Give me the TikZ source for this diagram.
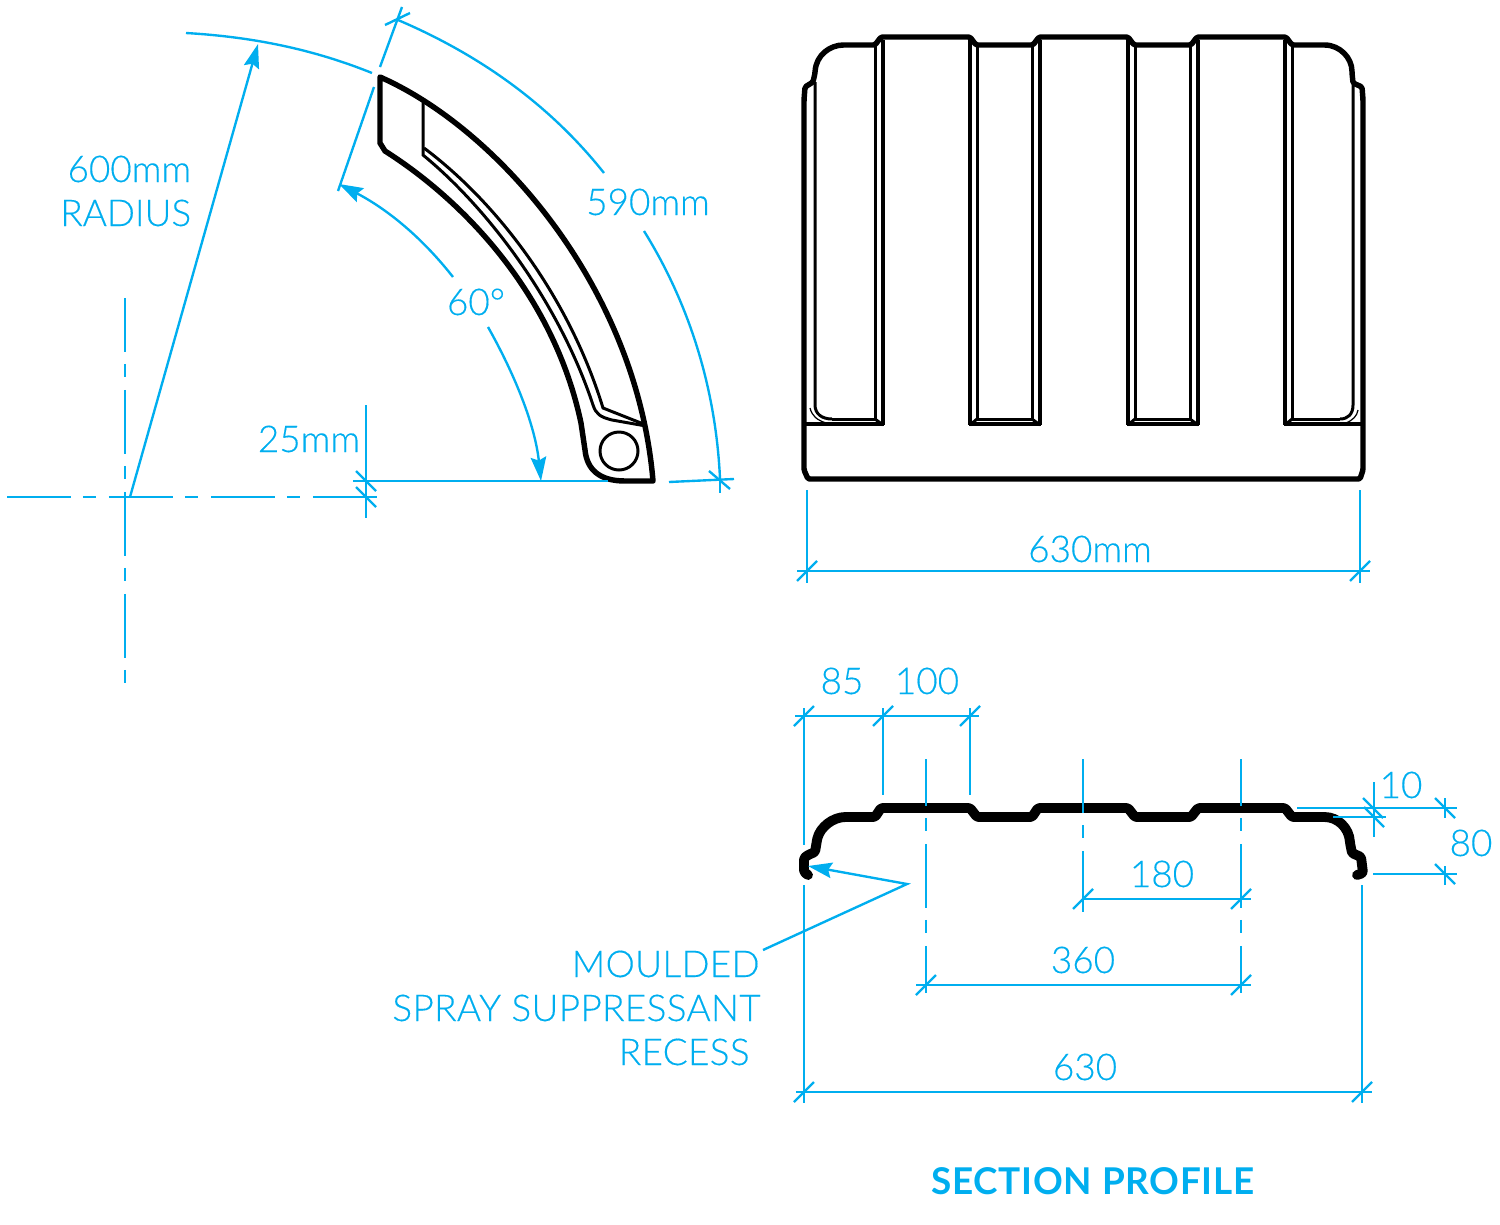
\documentclass[tikz,border=0pt]{standalone}
\usepackage{fontspec}
\setmainfont{Lato}[UprightFont=* Light,BoldFont=* Bold,UprightFeatures={FakeBold=0.3}]
\newfontfamily\capsfont{Lato}[UprightFont=* Light,BoldFont=* Bold,UprightFeatures={FakeBold=0.3},LetterSpace=1]
\newfontfamily\titlefont{Lato}[UprightFont=* Bold,LetterSpace=2]
\usetikzlibrary{arrows.meta}
\definecolor{dimblue}{HTML}{00AEEF}
\tikzset{
	dimline/.style={draw=dimblue, line width=1.35pt},
	dimarrow/.style={dimline, -{Stealth[length=0.48cm,width=0.31cm,inset=0.07cm]}},
	centreline/.style={dimline, dash pattern=on 1.28cm off 0.24cm on 0.26cm off 0.26cm},
	dimlabel/.style={text=dimblue, font=\fontsize{21}{24}\selectfont, inner sep=0pt},
	capslabel/.style={dimlabel, font=\fontsize{21}{24}\selectfont\capsfont},
	outline/.style={line width=3.1pt, line join=round},
	heavyline/.style={line width=2.8pt},
	thinline/.style={line width=1.7pt},
	profile/.style={line width=5.6pt, rounded corners=0.03cm, line cap=round, line join=round}
}
\begin{document}
\begin{tikzpicture}[x=0.02cm,y=-0.02cm]
	\useasboundingbox (0,0) rectangle (1500,1224);

	% side view
	\draw[centreline] (7,497) -- (380,497);
	\draw[centreline, dash phase=0.2cm] (125.3,298) -- (125.3,685);
	\draw[dimarrow] (130,497) -- (258,44);
	\draw[dimline] (186,33) .. controls (255,37) and (315,50) .. (372,73);
	\draw[outline] (380,77) .. controls (500,130) and (637,290) .. (653,481)
		-- (625,481) .. controls (600,481) and (587,470) .. (585,450)
		-- (581,423) .. controls (555,300) and (470,205) .. (385,151)
		-- (380,143) -- cycle;
	\draw[thinline] (619,451) circle (19);
	\draw[thinline] (423,100) -- (423,155)
		.. controls (490,210) and (560,305) .. (593,405)
		.. controls (596,414) and (600,417) .. (612,420) -- (646,426);
	\draw[thinline] (424,148) .. controls (500,205) and (570,300) .. (603,408) -- (646,425);

	% side view dimensions
	\draw[dimline] (380,67) -- (402,7);
	\draw[dimline] (374,87) -- (338,191);
	\draw[dimline] (398,20) .. controls (480,55) and (550,105) .. (604,173);
	\draw[dimline] (644,231) .. controls (690,305) and (716,390) .. (720,479);
	\draw[dimline] (669,482) -- (734,479);
	\draw[dimline] (720,470) -- (720,493);
	\draw[dimline] (385,25) -- (410,13);
	\draw[dimline] (709,471) -- (730,489);
	\draw[dimarrow] (453,277) .. controls (420,235) and (385,208) .. (339,184);
	\draw[dimarrow] (488,327) .. controls (515,375) and (535,425) .. (541,481);
	\draw[dimline] (353,481) -- (608,481);
	\draw[dimline] (366,405) -- (366,518);
	\foreach \y in {481,497}
		\draw[dimline] (356,\y-10) -- (376,\y+10);

	\node[dimlabel, anchor=base east] (radiuslen) at (191.5,182) {600mm};
	\node[dimlabel, anchor=base east] (radiustxt) at (191.5,226) {RADIUS};
	\node[dimlabel, anchor=base] (arclen) at (648,215) {590mm};
	\node[dimlabel, anchor=base] (arcangle) at (476,315) {60°};
	\node[dimlabel, anchor=base] (offsetlen) at (309,452) {25mm};

	% front view
	\draw[outline, rounded corners=0.03cm] (804,470) -- (804,100) -- (805,87) -- (813,82) -- (815,73)
		.. controls (816,55) and (830,45) .. (845,45) -- (875,45) -- (881,37) -- (970,37) -- (976,45)
		-- (1033,45) -- (1039,37) -- (1128,37) -- (1134,45) -- (1191,45) -- (1197,37) -- (1286,37)
		-- (1292,45) -- (1323,45) .. controls (1340,45) and (1352,58) .. (1352,73) -- (1353,83)
		-- (1362,87) -- (1363,100) -- (1363,470) -- (1360,479) -- (808,479) -- cycle;
	\foreach \x in {883,970,1040,1128,1198,1285}
		\draw[heavyline] (\x,40) -- (\x,425);
	\foreach \x in {875,977,1032,1135,1190,1292}
		\draw[thinline] (\x,46) -- (\x,420);
	\draw[heavyline] (804,424) -- (884,424) (969,424) -- (1041,424) (1127,424) -- (1199,424) (1284,424) -- (1363,424);
	\foreach \a/\b in {832/875,977/1032,1135/1190,1292/1340}
		\draw[thinline] (\a,419) -- (\b,419);
	\foreach \a/\b in {875/883,1032/1040,1190/1198,977/970,1135/1128,1292/1285}
		\draw[thinline] (\a,419) -- (\b,425);
	\draw[thinline] (815,82) -- (815,405) .. controls (815,414) and (822,419) .. (832,419);
	\draw[thinline] (1353,84) -- (1353,405) .. controls (1353,414) and (1348,419) .. (1340,419);
	\draw[thinline, line width=.7pt] (810,408) .. controls (812,416) and (817,420) .. (826,423);
	\draw[thinline, line width=.7pt] (1358,410) .. controls (1357,416) and (1353,420) .. (1346,423);

	\draw[dimline] (807,490) -- (807,583);
	\draw[dimline] (1360,490) -- (1360,583);
	\draw[dimline] (797,571) -- (1370,571);
	\foreach \x in {807,1360}
		\draw[dimline] (\x-10,581) -- (\x+10,561);
	\node[dimlabel, anchor=base] (frontwidth) at (1090,562) {630mm};

	% section profile
	\draw[profile] (808,875) -- (804,872) -- (804,858) -- (808,855) -- (815,852) -- (817,840)
		.. controls (820,827) and (833,817) .. (847,817) -- (875,817) -- (881,808) -- (970,808)
		-- (977,817) -- (1032,817) -- (1038,808) -- (1128,808) -- (1135,817) -- (1191,817) -- (1198,808)
		-- (1285,808) -- (1292,817) -- (1323,817) .. controls (1338,817) and (1349,828) .. (1350,843)
		-- (1352,853) -- (1361,857) -- (1363,873) -- (1357,875);

	% section dimensions
	\draw[dimline] (795,716) -- (979,716);
	\draw[dimline] (804,708) -- (804,845);
	\draw[dimline] (883,708) -- (883,795);
	\draw[dimline] (970,708) -- (970,795);
	\foreach \x in {804,883,970}
		\draw[dimline] (\x-10,726) -- (\x+10,706);
	\draw[centreline, dash phase=0.34cm] (926,759) -- (926,993);
	\draw[centreline, dash phase=0.34cm] (1241,759) -- (1241,993);
	\draw[centreline, dash phase=0.2cm] (1083,759) -- (1083,912);
	\draw[dimline] (1083,899) -- (1251,899);
	\draw[dimline] (916,985) -- (1251,985);
	\draw[dimline] (804,885) -- (804,1103);
	\draw[dimline] (1362,885) -- (1362,1103);
	\draw[dimline] (796,1092) -- (1372,1092);
	\foreach \x/\y in {1083/899,1241/899,926/985,1241/985,804/1092,1362/1092}
		\draw[dimline] (\x-10,\y+10) -- (\x+10,\y-10);
	\draw[dimline] (1297,808) -- (1457,808);
	\draw[dimline] (1333,817) -- (1386,817);
	\draw[dimline] (1373,874) -- (1457,874);
	\draw[dimline] (1374,782) -- (1374,837);
	\draw[dimline] (1445,798) -- (1445,818) (1445,866) -- (1445,885);
	\foreach \x/\y in {1373/808,1374/817,1445/808,1445/874}
		\draw[dimline] (\x-10,\y-10) -- (\x+10,\y+10);
	\draw[dimarrow] (763,950) -- (907,884) -- (808,866);

	\node[dimlabel, anchor=base] (firstgap) at (842,694) {85};
	\node[dimlabel, anchor=base] (firstrib) at (927,694) {100};
	\node[dimlabel, anchor=base] (ribstep) at (1401,798) {10};
	\node[dimlabel, anchor=base] (ribdrop) at (1471,856) {80};
	\node[dimlabel, anchor=base] (pitch) at (1162,887) {180};
	\node[dimlabel, anchor=base] (doublepitch) at (1083,973) {360};
	\node[dimlabel, anchor=base] (sectionwidth) at (1085,1080) {630};
	\node[capslabel, anchor=base east] (recessa) at (760,977) {MOULDED};
	\node[capslabel, anchor=base east] (recessb) at (761,1021) {SPRAY SUPPRESSANT};
	\node[capslabel, anchor=base east] (recessc) at (750,1065) {RECESS};
	\node[dimlabel, anchor=base, font=\fontsize{21}{24}\selectfont\titlefont] (sectiontitle) at (1093,1194) {SECTION PROFILE};
\end{tikzpicture}
\end{document}
